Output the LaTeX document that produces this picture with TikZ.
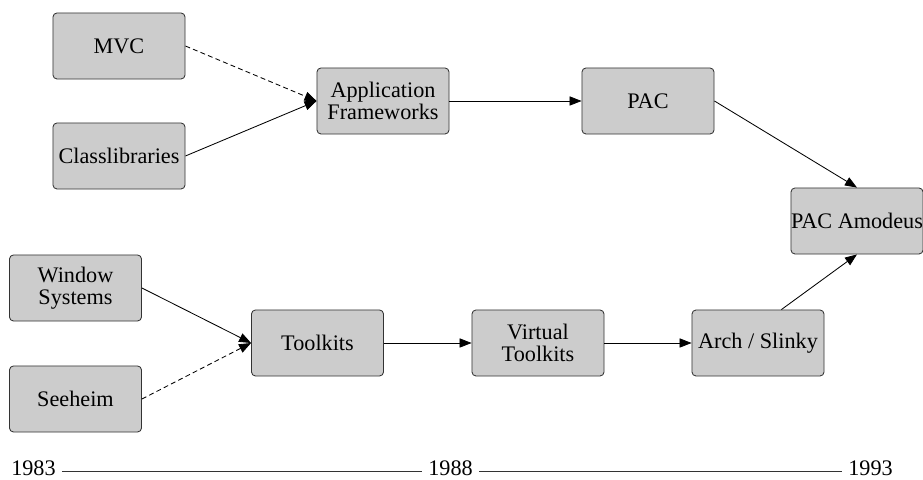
\documentclass[tikz,border=0pt]{standalone}
\usepackage{fontspec}
\setmainfont{Liberation Serif}
\usepackage{tikz}
\usetikzlibrary{arrows.meta,calc}

\begin{document}
\begin{tikzpicture}[x=0.025cm,y=0.025cm,
  box/.style={draw=black!80,fill=black!20,rounded corners=0.1cm,line width=0.6pt,
    minimum width=3.3cm,minimum height=1.65cm,inner sep=0pt,align=center,
    font=\fontsize{15.8}{15.4}\selectfont},
  year/.style={inner sep=0pt,font=\fontsize{15.8}{15.4}\selectfont},
  edge/.style={line width=0.6pt,-{Triangle[length=0.3cm,width=0.23cm]}},
  weak/.style={edge,dash pattern=on 3.5pt off 2.3pt}]

\useasboundingbox (0,0) rectangle (923,480);

%Upper row
\node[box] (mvc) at (119,434) {MVC};
\node[box] (classlib) at (119,324) {Classlibraries};
\node[box] (appfw) at (383,379) {Application\\Frameworks};
\node[box] (pac) at (648,379) {PAC};
\node[box] (amodeus) at (857,259) {PAC Amodeus};

%Lower row
\node[box] (winsys) at (75.5,192) {Window\\Systems};
\node[box] (seeheim) at (75.5,81) {Seeheim};
\node[box] (toolkits) at (317.5,137) {Toolkits};
\node[box] (vtoolkits) at (538,137) {Virtual\\Toolkits};
\node[box] (arch) at (758,137) {Arch / Slinky};

\draw[weak] (mvc.east) -- (appfw.west);
\draw[edge] (classlib.east) -- (appfw.west);
\draw[edge] (appfw.east) -- (pac.west);
\draw[edge] (pac.east) -- (amodeus.north);

\draw[edge] (winsys.east) -- (toolkits.west);
\draw[weak] (seeheim.east) -- (toolkits.west);
\draw[edge] (toolkits.east) -- (vtoolkits.west);
\draw[edge] (vtoolkits.east) -- (arch.west);
\draw[edge] (arch.55) -- (amodeus.south);

%Time axis
\node[year,anchor=base west] (y83) at (11,4) {1983};
\node[year,anchor=base west] (y88) at (428,4) {1988};
\node[year,anchor=base west] (y93) at (848,4) {1993};
\draw[black!80,line width=0.6pt] ($(y83.base east)+(6,5)$) -- ($(y88.base west)+(-6,5)$);
\draw[black!80,line width=0.6pt] ($(y88.base east)+(6,5)$) -- ($(y93.base west)+(-6,5)$);

\end{tikzpicture}
\end{document}
